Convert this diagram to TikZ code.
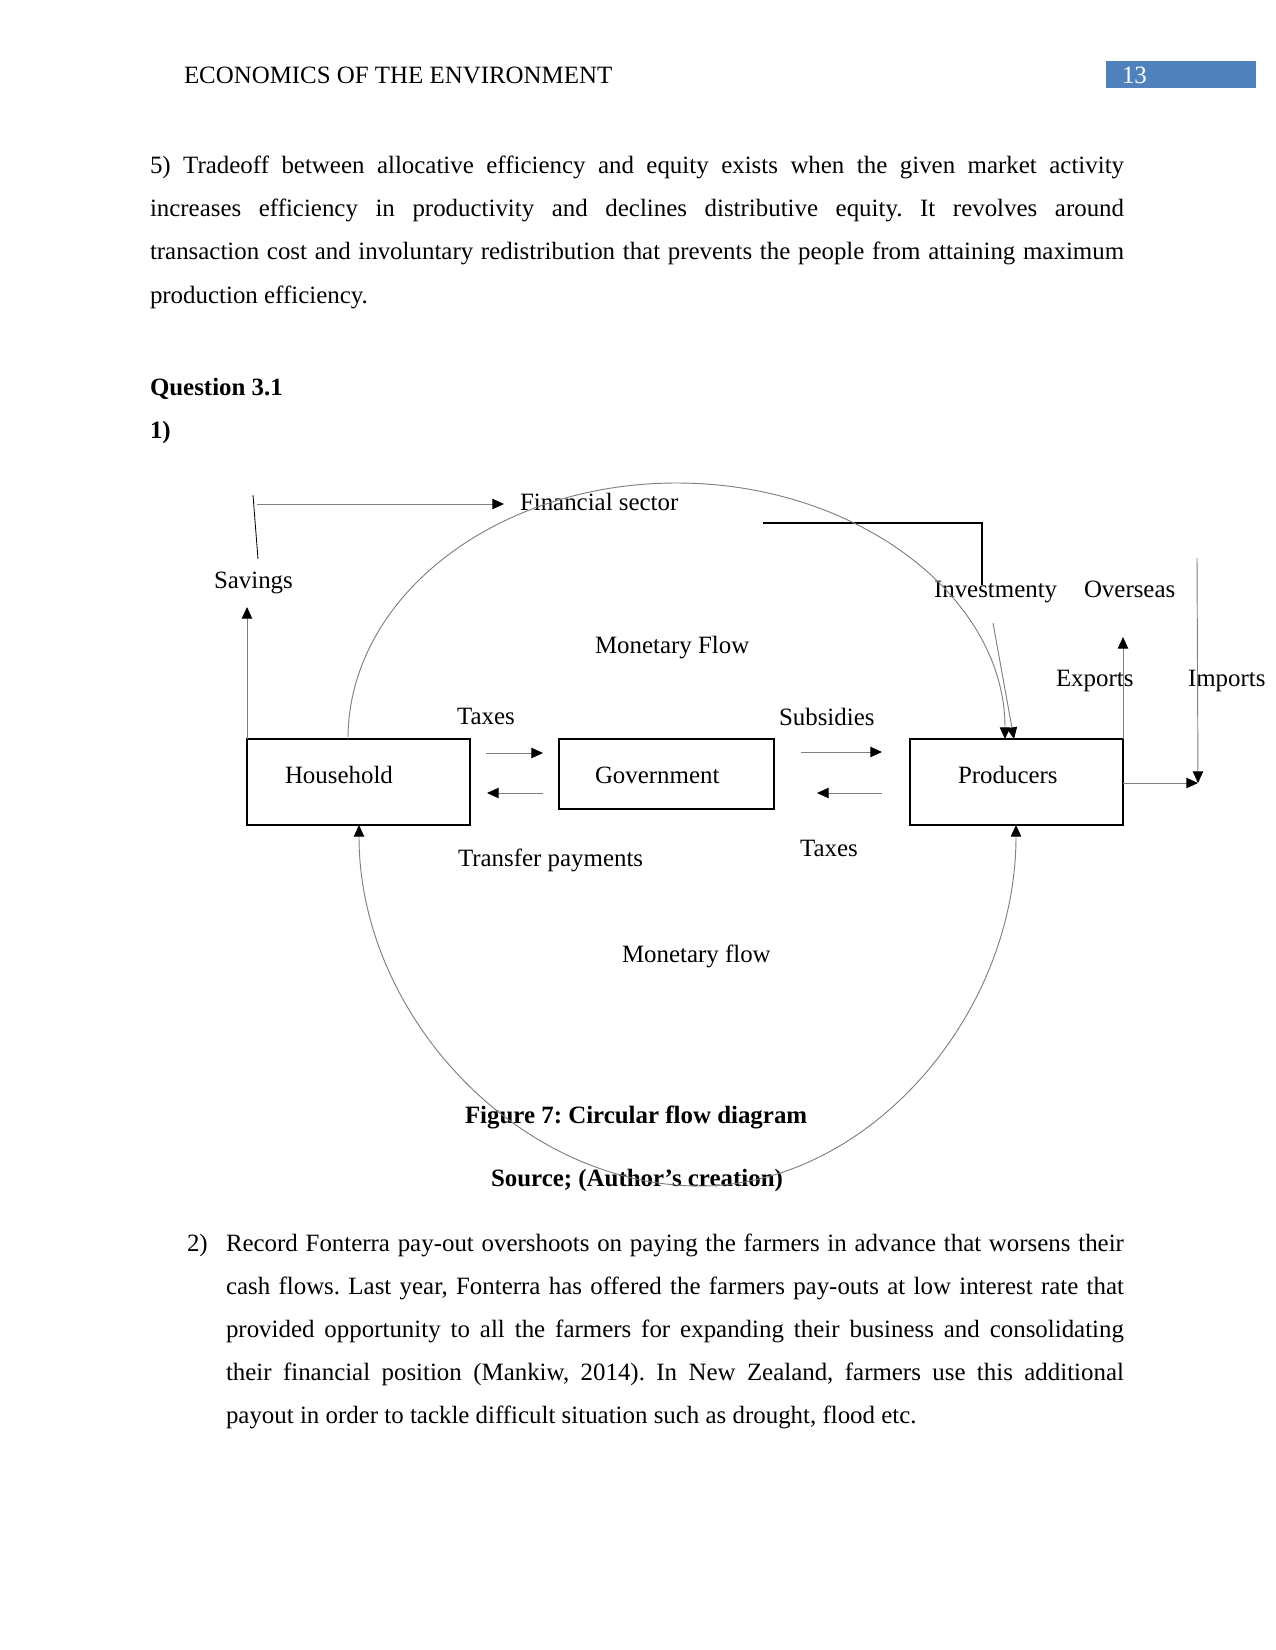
\documentclass[tikz,border=0pt]{standalone}
\usepackage{fontspec}
\setmainfont{Liberation Serif}
\usetikzlibrary{arrows.meta}
\definecolor{HeadBlue}{HTML}{4F81BD}
\definecolor{FlowGrey}{HTML}{808080}
\frenchspacing

\tikzset{
  txt/.style={anchor=base west,inner sep=0pt,outer sep=0pt},
  box/.style={draw=black,line width=0.6pt,anchor=north west,inner sep=0pt,outer sep=0pt},
  flow/.style={draw=FlowGrey,line width=0.45pt,-{Triangle[length=5.6pt,width=5pt,black]}},
  twoway/.style={draw=FlowGrey,line width=0.45pt,{Triangle[length=5.6pt,width=5pt,black]}-{Triangle[length=5.6pt,width=5pt,black]}},
  invline/.style={draw=black,line width=0.6pt}
}

\begin{document}
\begin{tikzpicture}[x=0.48bp,y=-0.48bp,line cap=butt,line join=miter,font=\fontsize{12}{14}\selectfont]
  \fill[white] (0,0) rectangle (1275,1650);
  \useasboundingbox (0,0) rectangle (1275,1650);
  % page head
  \node[txt] (head) at (184,83) {ECONOMICS OF THE ENVIRONMENT};
  \node[fill=HeadBlue,anchor=north west,inner sep=0pt,minimum width=150*0.48bp,minimum height=27*0.48bp] (pgbox) at (1106,61) {};
  \node[txt,text=white] (pgno) at (1122,83) {13};
  % text above
  \node[txt] (p1) at (150,173) {\makebox[467.5bp][s]{5) Tradeoff between allocative efficiency and equity exists when the given market activity}};
  \node[txt] (p2) at (150,216) {\makebox[467.5bp][s]{increases efficiency in productivity and declines distributive equity. It revolves around}};
  \node[txt] (p3) at (150,259) {\makebox[467.5bp][s]{transaction cost and involuntary redistribution that prevents the people from attaining maximum}};
  \node[txt] (p4) at (150,303) {production efficiency.};
  \node[txt,font=\fontsize{12}{14}\selectfont\bfseries] (qhead) at (150,395) {Question 3.1};
  \node[txt,font=\fontsize{12}{14}\selectfont\bfseries] (qone) at (150,438) {1)};

  % boxes
  \node[box,minimum width=223*0.48bp,minimum height=86*0.48bp] (hh) at (247,739) {};
  \node[box,minimum width=215*0.48bp,minimum height=70*0.48bp] (gov) at (559,739) {};
  \node[box,minimum width=213*0.48bp,minimum height=86*0.48bp] (prod) at (910,739) {};
  \node[txt] (hhtxt) at (285,783) {Household};
  \node[txt] (govtxt) at (595,783) {Government};
  \node[txt] (prodtxt) at (958,783) {Producers};

  % labels
  \node[txt] (fin) at (520,510) {Financial sector};
  \node[txt] (sav) at (214,588) {Savings};
  \node[txt] (monup) at (595,653) {Monetary Flow};
  \node[txt] (inv) at (934,597) {Investmenty};
  \node[txt] (ovs) at (1084,597) {Overseas};
  \node[txt] (expo) at (1056,686) {Exports};
  \node[txt] (impo) at (1188,686) {Imports};
  \node[txt] (taxa) at (457,724) {Taxes};
  \node[txt] (subs) at (779,725) {Subsidies};
  \node[txt] (taxb) at (800,856) {Taxes};
  \node[txt] (trans) at (458,866) {Transfer payments};
  \node[txt] (mondown) at (622,962) {Monetary flow};
  \node[txt,font=\fontsize{12}{14}\selectfont\bfseries] (cap) at (465,1123) {Figure 7: Circular flow diagram};
  \node[txt,font=\fontsize{12}{14}\selectfont\bfseries] (src) at (491,1186) {Source; (Author’s creation)};

  % free ends
  \coordinate (savTip) at (247,607);
  \coordinate (slashA) at (253,495);\coordinate (slashB) at (258,559);
  \coordinate (finL) at (257,504);\coordinate (finR) at (504,504);
  \coordinate (invA) at (763,523);\coordinate (invB) at (982,585);
  \coordinate (invS) at (993,623);
  \coordinate (arcTop) at (676.5,483);\coordinate (arcBot) at (700,1186);
  \coordinate (expTip) at (1123,637);
  \coordinate (impTop) at (1197,558);\coordinate (impEnd) at (1198,783);

  % arrows between boxes
  \draw[flow] ([shift={(16,14)}]hh.north east) -- ([shift={(-16,14)}]gov.north west);
  \draw[flow] ([shift={(-16,54)}]gov.north west) -- ([shift={(17,54)}]hh.north east);
  \draw[flow] ([shift={(27,13)}]gov.north east) -- ([shift={(-28,13)}]prod.north west);
  \draw[flow] ([shift={(-28,54)}]prod.north west) -- ([shift={(43,54)}]gov.north east);

  % savings and investment
  \draw[flow] (hh.north west) -- (savTip);
  \draw[black,line width=0.4pt] (slashA) -- (slashB);
  \draw[flow] (finL) -- (finR);
  \draw[invline] (invA) -| (invB);
  \draw[flow] (invS) -- ([shift={(104,0)}]prod.north west);

  % monetary flows
  \draw[flow] ([shift={(101,0)}]hh.north west) .. controls +(0,-141.4) and +(-181.4,0) .. (arcTop) .. controls +(181.4,0) and +(0,-141.4) .. ([shift={(95,0)}]prod.north west);
  \draw[twoway] ([shift={(112,0)}]hh.south west) .. controls +(0,191) and +(-180.7,0) .. (arcBot) .. controls +(167.5,0) and +(0,191) .. ([shift={(106,0)}]prod.south west);

  % overseas
  \draw[flow] (prod.north east) -- (expTip);
  \draw[flow] (impTop) -- (impEnd);
  \draw[flow] ([shift={(0,44)}]prod.north east) -- (impEnd);

  % text below
  \node[txt] (q2no) at (187,1251) {2)};
  \node[txt] (q2a) at (226,1251) {\makebox[431bp][s]{Record Fonterra pay-out overshoots on paying the farmers in advance that worsens their}};
  \node[txt] (q2b) at (226,1294) {\makebox[431bp][s]{cash flows. Last year, Fonterra has offered the farmers pay-outs at low interest rate that}};
  \node[txt] (q2c) at (226,1337) {\makebox[431bp][s]{provided opportunity to all the farmers for expanding their business and consolidating}};
  \node[txt] (q2d) at (226,1380) {\makebox[431bp][s]{their financial position (Mankiw, 2014). In New Zealand, farmers use this additional}};
  \node[txt] (q2e) at (226,1423) {payout in order to tackle difficult situation such as drought, flood etc.};
\end{tikzpicture}
\end{document}
